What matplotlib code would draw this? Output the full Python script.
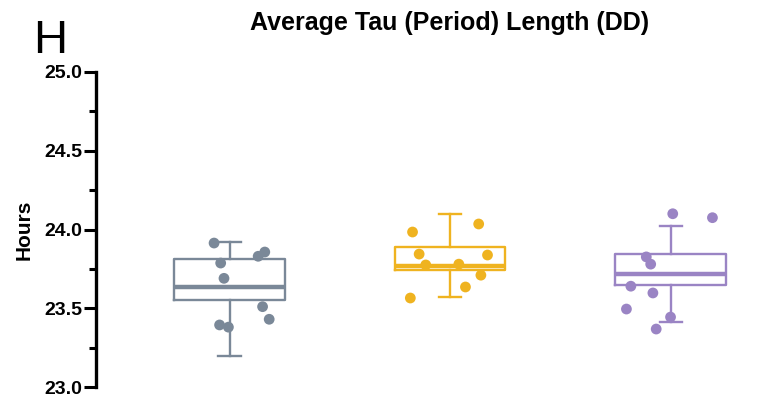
import matplotlib
matplotlib.use("Agg")
import matplotlib.pyplot as plt
from matplotlib.ticker import MultipleLocator

# Per-group colours
colors = ["#7a8898", "#efb320", "#9a84c4"]
positions = [1, 2, 3]

# Box-and-whisker summaries (hours)
whisker_low = [23.20, 23.57, 23.415]
box_low = [23.55, 23.745, 23.648]
medians = [23.635, 23.77, 23.717]
box_high = [23.81, 23.891, 23.844]
whisker_high = [23.92, 24.10, 24.022]

# Individual animals: horizontal jitter offset and period length (hours)
jitter_1 = [-0.07, -0.04, -0.025, 0.13, 0.16, 0.15, 0.18, -0.045, -0.005]
tau_1 = [23.914, 23.787, 23.69, 23.83, 23.857, 23.51, 23.43, 23.394, 23.38]
jitter_2 = [-0.17, 0.13, -0.14, 0.17, -0.11, 0.04, 0.14, 0.07, -0.18]
tau_2 = [23.984, 24.035, 23.844, 23.838, 23.775, 23.78, 23.71, 23.635, 23.565]
jitter_3 = [0.01, 0.19, -0.11, -0.09, -0.18, -0.08, -0.20, 0.0, -0.065]
tau_3 = [24.10, 24.075, 23.826, 23.78, 23.64, 23.597, 23.495, 23.444, 23.368]

jitters = [jitter_1, jitter_2, jitter_3]
taus = [tau_1, tau_2, tau_3]

plt.rcParams["font.family"] = ["Liberation Sans", "DejaVu Sans"]

fig = plt.figure(figsize=(7.63, 4.0), dpi=100)
ax = fig.add_axes([96 / 763, 13 / 400, 659 / 763, 315 / 400])

for i, c in enumerate(colors):
    stats = [{
        "whislo": whisker_low[i], "q1": box_low[i], "med": medians[i],
        "q3": box_high[i], "whishi": whisker_high[i], "fliers": [],
    }]
    ax.bxp(stats, positions=[positions[i]], widths=0.5, showfliers=False,
           boxprops=dict(color=c, linewidth=1.7),
           whiskerprops=dict(color=c, linewidth=1.7),
           capprops=dict(color=c, linewidth=1.7),
           medianprops=dict(color=c, linewidth=3.2),
           capwidths=0.1, zorder=2)
    xs = [positions[i] + j for j in jitters[i]]
    ax.scatter(xs, taus[i], s=60, color=c, edgecolors="none", zorder=3)

ax.set_ylim(23.0, 25.0)
ax.set_xlim(0.3946, 3.383)
ax.yaxis.set_major_locator(MultipleLocator(0.5))
ax.yaxis.set_minor_locator(MultipleLocator(0.25))
ax.yaxis.set_major_formatter(matplotlib.ticker.FormatStrFormatter("%.1f"))
ax.tick_params(axis="y", which="major", length=9, width=2.2, labelsize=14, pad=1)
ax.tick_params(axis="y", which="minor", length=5, width=2.2)
for lbl in ax.get_yticklabels():
    lbl.set_fontweight("bold")
ax.set_xticks([])

for side in ["top", "right", "bottom"]:
    ax.spines[side].set_visible(False)
ax.spines["left"].set_linewidth(2.4)
ax.spines["left"].set_capstyle("projecting")

fig.text(24 / 763, 1 - 230 / 400, "Hours", rotation=90, ha="center", va="center",
         fontsize=15, fontweight="bold")
fig.text(449.5 / 763, 1 - 23 / 400, "Average Tau (Period) Length (DD)",
         ha="center", va="center", fontsize=18, fontweight="bold")
fig.text(33 / 763, 1 - 53 / 400, "H", ha="left", va="baseline", fontsize=34)

fig.savefig("out.png", dpi=100)
